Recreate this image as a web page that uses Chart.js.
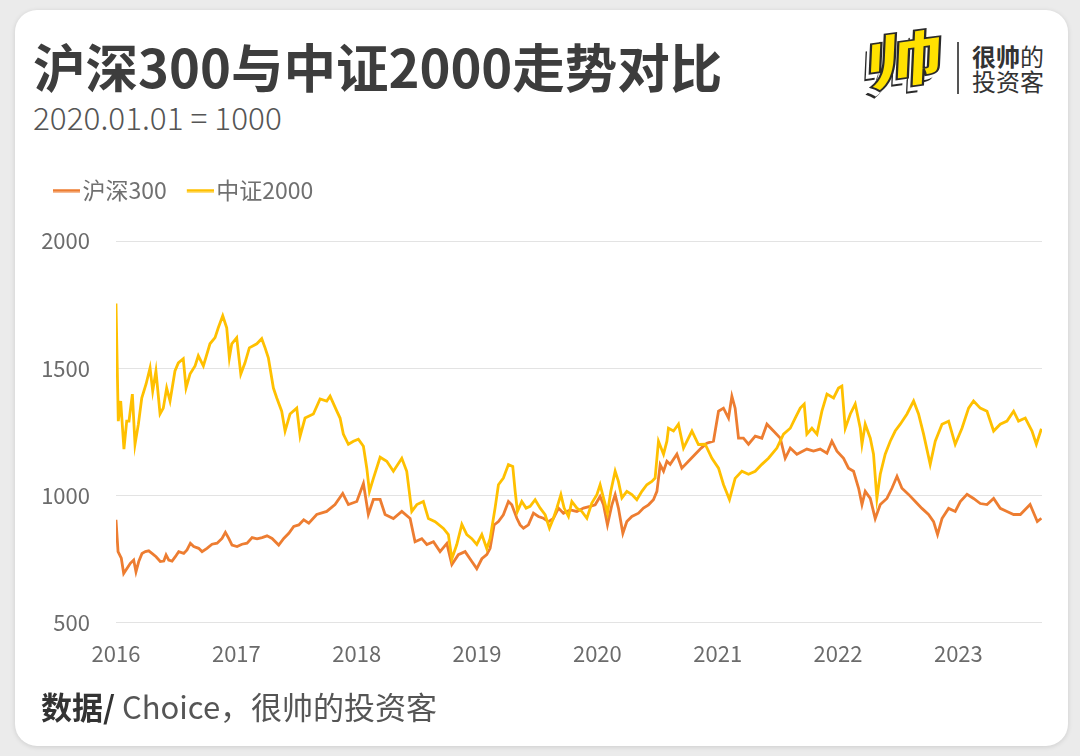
<!DOCTYPE html>
<html>
<head>
<meta charset="utf-8">
<script src="https://cdn.jsdelivr.net/npm/chart.js@4.4.0/dist/chart.umd.min.js"></script>
<style>
html,body{margin:0;padding:0;width:1080px;height:756px;overflow:hidden;background:#ebebeb;font-family:"Noto Sans CJK SC","Noto Sans",sans-serif;}
#card{position:absolute;left:15px;top:10px;width:1053px;height:736px;background:#fff;border-radius:22px;box-shadow:0 1px 5px rgba(0,0,0,0.13);}
.t{position:absolute;white-space:nowrap;line-height:1;}
#title{left:33px;top:39px;font-size:52.5px;font-weight:700;color:#3d3d3d;}
#sub{left:33px;top:101px;font-size:31.5px;font-weight:300;color:#555;}
#foot{left:41px;top:690px;font-size:31px;color:#555;}
#foot b{color:#333;font-weight:700;}
#logo{left:868px;top:32px;font-size:60px;font-weight:900;color:#ffe100;-webkit-text-stroke:1.8px #2a2a2a;transform:scaleX(1.25) skewX(-12deg) rotate(-10deg);transform-origin:left top;text-shadow:-1px 2px 0 #fff,-2px 4px 0 #fff,-3px 5px 0 #fff,-4px 7px 0 #2a2a2a;}
#divider{position:absolute;left:957px;top:42px;width:1.5px;height:52px;background:#555;}
#brand{left:972px;top:43px;font-size:24px;line-height:25px;color:#333;}
#brand b{font-weight:700;}
#wrap{position:absolute;left:0;top:150px;width:1080px;height:535px;}
</style>
</head>
<body>
<div id="card"></div>
<div class="t" id="title">沪深300与中证2000走势对比</div>
<div class="t" id="sub">2020.01.01 = 1000</div>
<div class="t" id="logo">帅</div>
<div id="divider"></div>
<div class="t" id="brand"><b>很帅</b>的<br>投资客</div>
<div id="wrap"><canvas id="c"></canvas></div>
<div class="t" id="foot"><b>数据/</b> Choice，很帅的投资客</div>
<script>
const seriesNames = ['沪深300', '中证2000'];
const yearTicks = [2016, 2017, 2018, 2019, 2020, 2021, 2022, 2023];
const valueTicks = [500, 1000, 1500, 2000];

const hs300Year = [2016.000,2016.017,2016.044,2016.064,2016.091,2016.119,2016.147,2016.166,2016.189,2016.216,2016.244,2016.272,2016.299,2016.333,2016.368,2016.397,2016.416,2016.438,2016.466,2016.493,2016.521,2016.563,2016.590,2016.618,2016.646,2016.687,2016.715,2016.756,2016.798,2016.840,2016.881,2016.909,2016.937,2016.964,2017.006,2017.047,2017.089,2017.131,2017.172,2017.214,2017.255,2017.297,2017.352,2017.394,2017.436,2017.477,2017.519,2017.560,2017.602,
2017.668,2017.751,2017.820,2017.884,2017.931,2018.001,2018.056,2018.097,2018.139,2018.195,2018.236,2018.305,2018.375,2018.444,2018.485,2018.541,2018.583,2018.638,2018.693,2018.749,2018.791,2018.845,2018.901,2018.957,2018.998,2019.040,2019.081,
2019.109,2019.142,2019.178,2019.219,2019.261,2019.289,2019.331,2019.358,2019.386,2019.427,2019.469,2019.510,2019.552,2019.594,2019.635,2019.677,2019.718,2019.774,2019.830,2019.885,2019.940,2019.982,2020.023,2020.051,2020.084,2020.121,2020.148,2020.175,2020.212,2020.245,2020.287,2020.342,2020.383,2020.425,2020.466,2020.495,2020.522,2020.550,2020.578,
2020.605,2020.661,2020.702,2020.757,2020.813,2020.863,2020.910,2020.965,2021.007,2021.048,2021.090,2021.118,2021.145,2021.173,2021.214,2021.256,2021.312,2021.367,2021.409,2021.464,2021.520,2021.561,2021.603,2021.658,2021.741,2021.796,2021.852,2021.908,2021.949,2021.991,2022.046,2022.087,2022.129,2022.171,2022.199,2022.226,2022.268,2022.309,2022.351,2022.406,2022.448,2022.490,2022.531,2022.586,2022.642,2022.697,2022.752,2022.794,2022.827,2022.864,2022.919,2022.974,2023.016,2023.072,2023.126,2023.182,2023.238,2023.293,2023.348,2023.404,2023.459,2023.515,2023.596,2023.656,2023.690];
const hs300Value = [904,779,753,693,713,733,746,700,740,772,779,782,772,759,740,742,766,746,742,759,779,772,786,812,799,792,779,792,808,812,831,855,831,805,799,808,812,834,829,834,841,831,805,831,851,878,884,904,891,
925,937,964,1008,964,976,1047,925,984,984,925,909,937,909,818,830,807,818,779,811,728,767,779,740,712,751,767,
792,884,897,924,976,963,910,884,871,884,930,917,910,897,910,950,930,943,937,950,957,963,996,963,884,963,1003,950,851,897,917,930,950,963,983,1016,1121,1095,1134,
1122,1162,1107,1134,1162,1186,1205,1213,1331,1343,1304,1390,1343,1225,1225,1201,1233,1225,1280,1253,1225,1146,1186,1162,1182,1174,1182,1166,1213,1174,1146,1107,1095,1028,964,1016,988,909,964,988,1028,1075,1028,1004,976,949,925,897,846,909,949,937,976,1004,988,968,964,988,949,937,925,925,964,897,910];

const zz2000Year = [2016.000,2016.019,2016.039,2016.066,2016.089,2016.108,2016.136,2016.158,2016.186,2016.214,2016.250,2016.283,2016.305,2016.332,2016.366,2016.393,2016.421,2016.449,2016.490,2016.518,2016.559,2016.582,2016.615,2016.657,2016.684,2016.726,2016.781,2016.823,2016.850,2016.887,2016.920,2016.942,2016.962,2017.003,2017.037,2017.072,2017.108,2017.170,2017.211,2017.239,2017.266,2017.308,2017.336,2017.377,2017.405,2017.446,2017.502,2017.530,2017.571,2017.640,2017.696,2017.751,2017.779,2017.835,2017.862,2017.889,2017.931,2017.973,2018.014,2018.056,2018.084,2018.106,2018.139,2018.195,2018.250,2018.305,2018.375,2018.416,2018.458,2018.500,2018.554,2018.596,2018.652,2018.721,2018.762,2018.791,2018.832,2018.874,2018.915,2018.957,2018.998,2019.040,2019.081,
2019.109,2019.150,2019.178,2019.219,2019.261,2019.297,2019.317,2019.336,2019.372,2019.408,2019.441,2019.483,2019.525,2019.566,2019.602,2019.635,2019.663,2019.697,2019.724,2019.760,2019.788,2019.830,2019.871,2019.913,2019.954,2019.996,2020.023,2020.051,2020.084,2020.112,2020.148,2020.175,2020.204,2020.245,2020.287,2020.328,2020.370,2020.411,2020.453,2020.480,2020.508,2020.550,2020.578,
2020.591,2020.633,2020.674,2020.716,2020.786,2020.840,2020.896,2020.952,2021.007,2021.048,2021.098,2021.145,2021.201,2021.256,2021.312,2021.367,2021.422,2021.492,2021.547,2021.603,2021.644,2021.686,2021.719,2021.741,2021.783,2021.825,2021.866,2021.908,2021.963,2022.004,2022.032,2022.060,2022.102,2022.143,2022.185,2022.199,2022.226,2022.268,2022.295,2022.323,2022.351,2022.392,2022.434,2022.475,2022.517,2022.573,2022.628,2022.669,2022.711,2022.766,2022.808,2022.864,2022.919,2022.974,2023.030,2023.085,2023.126,2023.182,2023.238,2023.293,2023.348,2023.404,2023.459,2023.500,2023.556,2023.612,2023.648,2023.690];
const zz2000Value = [1754,1292,1371,1182,1292,1292,1398,1201,1280,1383,1438,1501,1410,1489,1320,1343,1422,1371,1489,1521,1537,1422,1477,1509,1549,1509,1596,1620,1659,1706,1659,1541,1596,1620,1477,1521,1580,1596,1616,1580,1541,1422,1383,1331,1253,1320,1343,1233,1304,1320,1379,1371,1390,1331,1304,1241,1201,1213,1221,1193,1107,1016,1067,1150,1134,1095,1146,1095,937,964,976,909,897,870,846,751,807,886,846,830,807,846,791,
831,950,1042,1068,1121,1114,1016,937,976,950,957,983,950,924,871,910,950,1003,950,917,976,950,937,910,970,1003,1042,990,930,1016,1095,1055,990,1016,1003,983,1016,1042,1055,1068,1213,1162,1213,
1264,1253,1280,1186,1253,1200,1201,1146,1107,1043,984,1067,1095,1083,1095,1122,1146,1186,1241,1264,1304,1343,1359,1241,1264,1241,1331,1398,1383,1422,1430,1264,1320,1359,1264,1201,1280,1225,1162,988,1083,1162,1213,1253,1280,1320,1371,1320,1241,1122,1213,1280,1292,1201,1264,1343,1371,1343,1331,1253,1280,1292,1331,1292,1304,1253,1201,1262];

const colors = ['#ED7D31', '#FFC000'];

function legendLine(color) {
  const c = document.createElement('canvas');
  c.width = 36; c.height = 4;
  const g = c.getContext('2d');
  g.fillStyle = color;
  g.fillRect(9, 0.5, 27, 3);
  return c;
}

const legendSpacer = {
  id: 'legendSpacer',
  beforeInit(chart) {
    const fit = chart.legend.fit;
    chart.legend.fit = function () { fit.call(this); this.height += 29; };
  }
};

const toPoints = (xs, ys) => xs.map((x, i) => ({ x: x, y: ys[i] }));

const tickFont = { family: '"Noto Sans CJK SC","Noto Sans",sans-serif', size: 22 };

new Chart(document.getElementById('c'), {
  type: 'line',
  data: {
    datasets: [
      { label: seriesNames[0], data: toPoints(hs300Year, hs300Value), borderColor: colors[0], backgroundColor: colors[0], borderWidth: 2.8, pointRadius: 0, pointHoverRadius: 0, tension: 0, order: 2, pointStyle: legendLine(colors[0]) },
      { label: seriesNames[1], data: toPoints(zz2000Year, zz2000Value), borderColor: colors[1], backgroundColor: colors[1], borderWidth: 2.8, pointRadius: 0, pointHoverRadius: 0, tension: 0, order: 1, pointStyle: legendLine(colors[1]) }
    ]
  },
  options: {
    responsive: true,
    maintainAspectRatio: false,
    animation: false,
    events: [],
    layout: { padding: { top: 9, left: 33, right: 38, bottom: 0 } },
    plugins: {
      tooltip: { enabled: false },
      legend: {
        display: true,
        position: 'top',
        align: 'start',
        labels: {
          usePointStyle: true,
          pointStyleWidth: 18,
          padding: 20,
          color: '#707070',
          font: { family: '"Noto Sans CJK SC","Noto Sans",sans-serif', size: 23 },
          sort: (a, b) => a.datasetIndex - b.datasetIndex
        }
      }
    },
    scales: {
      x: {
        type: 'linear',
        min: 2016,
        max: 2023.695,
        afterBuildTicks: axis => { axis.ticks = yearTicks.map(v => ({ value: v })); },
        grid: { display: false, drawTicks: false },
        border: { display: false },
        ticks: { padding: 18, color: '#6b6b6b', font: tickFont, maxRotation: 0, autoSkip: false, callback: v => String(v) }
      },
      y: {
        min: 500,
        max: 2000,
        afterBuildTicks: axis => { axis.ticks = valueTicks.map(v => ({ value: v })); },
        afterFit: axis => { axis.width = 83; },
        grid: { color: '#e3e3e3', lineWidth: 1, drawTicks: false },
        border: { display: false },
        ticks: { padding: 26, color: '#6b6b6b', font: tickFont, callback: v => String(v) }
      }
    }
  },
  plugins: [legendSpacer]
});
</script>
</body>
</html>
